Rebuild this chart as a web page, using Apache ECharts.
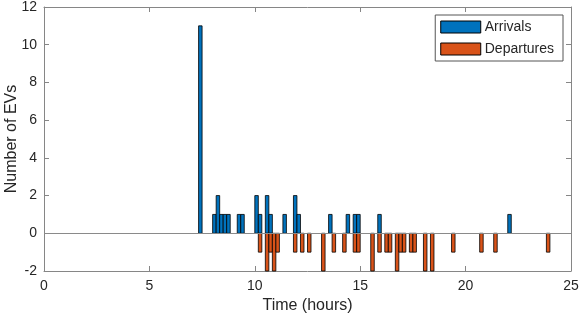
<!DOCTYPE html>
<html>
<head>
<meta charset="utf-8">
<script src="https://cdn.jsdelivr.net/npm/echarts@6/dist/echarts.min.js"></script>
<style>
  html, body { margin: 0; padding: 0; background: #fff; }
  #chart { width: 581px; height: 321px; }
</style>
</head>
<body>
<div id="chart"></div>
<script>
// histogram bins are 10 minutes wide, start times in hours
const binWidth = 1 / 6;

const arrivalStarts = [7.333, 8.0, 8.167, 8.333, 8.5, 8.667, 9.167, 9.333, 10.0, 10.167,
  10.5, 10.667, 11.333, 11.833, 12.0, 13.5, 14.333, 14.667, 14.833, 15.833, 22.0];
const arrivalCounts = [11, 1, 2, 1, 1, 1, 1, 1, 2, 1,
  2, 1, 1, 2, 1, 1, 1, 1, 1, 1, 1];

const departureStarts = [10.167, 10.5, 10.667, 10.833, 11.0, 11.833, 12.167, 12.5, 13.167,
  13.667, 14.167, 14.667, 14.833, 15.5, 15.833, 16.167, 16.333, 16.667, 16.833, 17.0,
  17.333, 17.5, 18.0, 18.333, 19.333, 20.667, 21.333, 23.833];
const departureCounts = [-1, -2, -1, -2, -1, -1, -1, -1, -2,
  -1, -1, -1, -1, -2, -1, -1, -1, -2, -1, -1,
  -1, -1, -2, -2, -1, -1, -1, -1];

const xTicks = [0, 5, 10, 15, 20, 25];
const yTicks = [-2, 0, 2, 4, 6, 8, 10, 12];

const blue = "#0072BD";
const orange = "#D95319";
const axisColor = "#868686";
const textColor = "#262626";
const font = "'Liberation Sans', Arial, sans-serif";

function binData(starts, counts) {
  return starts.map((s, i) => [s, s + binWidth, counts[i]]);
}

function barRenderer(color) {
  return function (params, api) {
    const p0 = api.coord([api.value(0), 0]);
    const p1 = api.coord([api.value(1), api.value(2)]);
    return {
      type: "rect",
      shape: {
        x: p0[0],
        y: Math.min(p0[1], p1[1]),
        width: p1[0] - p0[0],
        height: Math.abs(p1[1] - p0[1]),
      },
      style: { fill: color, stroke: "#000", lineWidth: 0.8 },
    };
  };
}

const tickStyle = { show: true, inside: true, length: 5, lineStyle: { color: axisColor } };
const lineStyle = { show: true, onZero: false, lineStyle: { color: axisColor, width: 1 } };
const labelStyle = { color: textColor, fontSize: 14, fontFamily: font };

const xBase = { type: "value", min: xTicks[0], max: xTicks[xTicks.length - 1], interval: 5, splitLine: { show: false } };
const yBase = { type: "value", min: yTicks[0], max: yTicks[yTicks.length - 1], interval: 2, splitLine: { show: false } };

const chart = echarts.init(document.getElementById("chart"));
chart.setOption({
  animation: false,
  grid: { left: 44, right: 10, top: 7, bottom: 50, containLabel: false, outerBoundsMode: "none" },
  legend: {
    orient: "vertical",
    right: 18,
    top: 15,
    itemWidth: 40,
    itemHeight: 12,
    itemGap: 8,
    padding: [5, 9, 5, 5],
    borderColor: "#555",
    borderWidth: 1,
    backgroundColor: "#fff",
    textStyle: { color: textColor, fontSize: 14, fontFamily: font, padding: [0, 0, 0, -1] },
    data: [
      { name: "Arrivals", icon: "rect", itemStyle: { color: blue, borderColor: "#000", borderWidth: 1 } },
      { name: "Departures", icon: "rect", itemStyle: { color: orange, borderColor: "#000", borderWidth: 1 } },
    ],
  },
  xAxis: [
    {
      ...xBase,
      position: "bottom",
      name: "Time (hours)",
      nameLocation: "middle",
      nameGap: 25,
      nameTextStyle: { color: textColor, fontSize: 16, fontFamily: font },
      axisLine: lineStyle,
      axisTick: tickStyle,
      axisLabel: { ...labelStyle, margin: 8 },
    },
    { ...xBase, position: "top", axisLine: lineStyle, axisTick: tickStyle, axisLabel: { show: false } },
  ],
  yAxis: [
    {
      ...yBase,
      position: "left",
      name: "Number of EVs",
      nameLocation: "middle",
      nameMoveOverlap: false,
      nameGap: 24,
      nameTextStyle: { color: textColor, fontSize: 16, fontFamily: font },
      axisLine: lineStyle,
      axisTick: tickStyle,
      axisLabel: { ...labelStyle, margin: 7 },
    },
    { ...yBase, position: "right", axisLine: lineStyle, axisTick: tickStyle, axisLabel: { show: false } },
  ],
  series: [
    {
      name: "Arrivals",
      type: "custom",
      xAxisIndex: 0,
      yAxisIndex: 0,
      itemStyle: { color: blue },
      renderItem: barRenderer(blue),
      data: binData(arrivalStarts, arrivalCounts),
      markLine: {
        silent: true,
        symbol: "none",
        label: { show: false },
        lineStyle: { color: "#8a8a8a", width: 1, type: "solid" },
        data: [{ yAxis: 0 }],
      },
      z: 3,
    },
    {
      name: "Departures",
      type: "custom",
      xAxisIndex: 0,
      yAxisIndex: 0,
      itemStyle: { color: orange },
      renderItem: barRenderer(orange),
      data: binData(departureStarts, departureCounts),
      z: 3,
    },
  ],
});
</script>
</body>
</html>
